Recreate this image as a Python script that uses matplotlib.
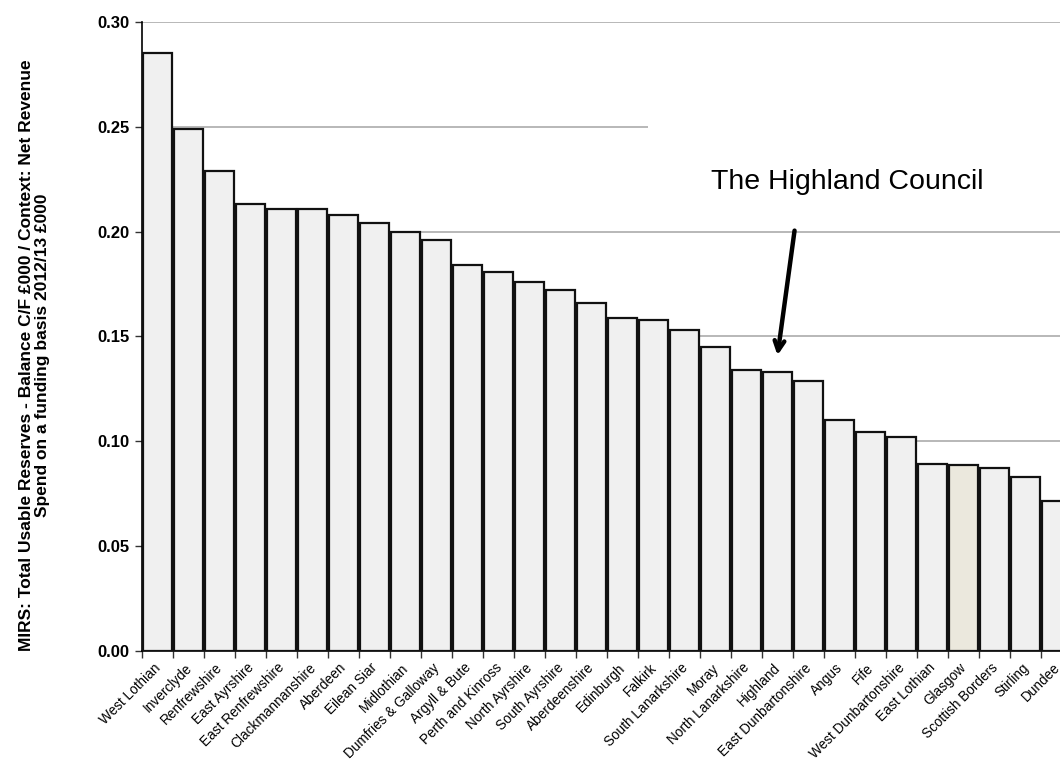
import numpy as np
import matplotlib
matplotlib.use('Agg')
import matplotlib.pyplot as plt
from matplotlib.patches import Rectangle

plt.rcParams['font.family'] = ['Liberation Sans', 'DejaVu Sans']

councils = ['West Lothian', 'Inverclyde', 'Renfrewshire', 'East Ayrshire', 'East Renfrewshire',
            'Clackmannanshire', 'Aberdeen', 'Eilean Siar', 'Midlothian', 'Dumfries & Galloway',
            'Argyll & Bute', 'Perth and Kinross', 'North Ayrshire', 'South Ayrshire', 'Aberdeenshire',
            'Edinburgh', 'Falkirk', 'South Lanarkshire', 'Moray', 'North Lanarkshire',
            'Highland', 'East Dunbartonshire', 'Angus', 'Fife', 'West Dunbartonshire',
            'East Lothian', 'Glasgow', 'Scottish Borders', 'Stirling', 'Dundee']
reserves_ratio = [0.285, 0.249, 0.229, 0.213, 0.211,
                  0.211, 0.208, 0.204, 0.200, 0.196,
                  0.184, 0.181, 0.176, 0.172, 0.166,
                  0.159, 0.158, 0.153, 0.145, 0.134,
                  0.133, 0.129, 0.110, 0.1045, 0.102,
                  0.089, 0.0887, 0.0873, 0.083, 0.0715]
highlight = 'Glasgow'
yticks = [0.00, 0.05, 0.10, 0.15, 0.20, 0.25, 0.30]

fig = plt.figure(figsize=(10.6, 7.6), dpi=100)
ax = fig.add_axes([142 / 1060, 109 / 760, 1 - 142 / 1060, 629 / 760])

x = np.arange(len(councils))
colours = ['#ebe8dd' if c == highlight else '#f0f0f0' for c in councils]
ax.bar(x, reserves_ratio, width=0.92, color=colours, edgecolor='#111111', linewidth=1.6, zorder=3)

ax.set_ylim(0, 0.30)
ax.set_xlim(-0.5, 29.5 - 12 / 31)
ax.set_yticks(yticks)
ax.set_yticklabels(['%.2f' % t for t in yticks], fontsize=12, fontweight='bold')
ax.yaxis.grid(True, color='#ababab', linewidth=1.2, zorder=0)
ax.set_axisbelow(True)

# white box hiding part of the 0.25 gridline, as in the original
ax.add_patch(Rectangle((15.82, 0.235), 20, 0.03, facecolor='white', edgecolor='none', zorder=1))

# labels sit a touch left of the bar centres
ax.set_xticks(x - 0.13)
ax.set_xticklabels(councils, rotation=45, ha='right', rotation_mode='anchor', fontsize=9.8)
ax.tick_params(axis='x', which='major', length=0, pad=7)
ax.set_xticks(np.arange(len(councils)) - 0.5, minor=True)
ax.tick_params(axis='x', which='minor', length=5, width=1, color='#333333')
ax.tick_params(axis='y', length=5, width=1, color='#333333', pad=4)

for side in ['top', 'right']:
    ax.spines[side].set_visible(False)
ax.spines['left'].set_linewidth(1.2)
ax.spines['bottom'].set_linewidth(1.2)

ax.set_ylabel('MIRS: Total Usable Reserves - Balance C/F £000 / Context: Net Revenue\n'
              'Spend on a funding basis 2012/13 £000', fontsize=12.5, fontweight='bold',
              linespacing=1.05)
ax.yaxis.set_label_coords(-(142 - 50) / 918, 0.47)

ax.annotate('', xy=(20.0, 0.141), xytext=(20.55, 0.2005),
            arrowprops=dict(arrowstyle='->,head_length=0.7,head_width=0.35', color='black',
                            linewidth=3.2, shrinkA=0, shrinkB=0), zorder=5)
ax.text(22.24, 0.2235, 'The Highland Council', fontsize=20.5, ha='center', va='center', zorder=5)

fig.savefig('out.png', dpi=100)
